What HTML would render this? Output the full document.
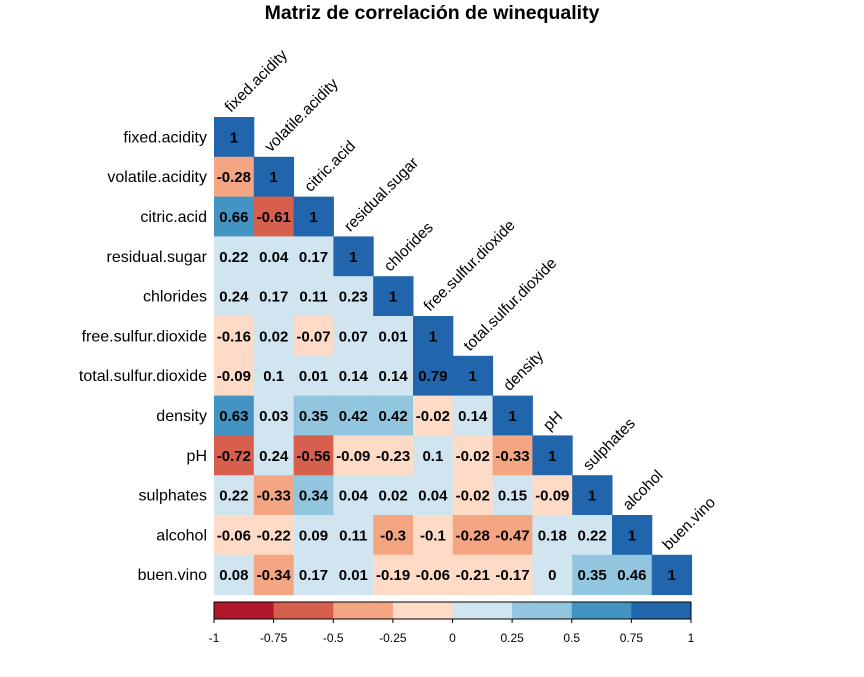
<!DOCTYPE html>
<html><head><meta charset="utf-8"><style>
body{margin:0;background:#fff;width:864px;height:672px;overflow:hidden}
svg text{font-family:"Liberation Sans",Arial,sans-serif}
</style></head><body>
<svg id="chart" width="864" height="672">
<text x="432" y="19" text-anchor="middle" font-size="19.5" font-weight="bold">Matriz de correlación de winequality</text>
<g id="cells"></g><g id="bar"></g>
</svg>
<script>
const vars=["fixed.acidity","volatile.acidity","citric.acid","residual.sugar","chlorides","free.sulfur.dioxide","total.sulfur.dioxide","density","pH","sulphates","alcohol","buen.vino"];
const corrRows=[
[1],
[-0.28,1],
[0.66,-0.61,1],
[0.22,0.04,0.17,1],
[0.24,0.17,0.11,0.23,1],
[-0.16,0.02,-0.07,0.07,0.01,1],
[-0.09,0.1,0.01,0.14,0.14,0.79,1],
[0.63,0.03,0.35,0.42,0.42,-0.02,0.14,1],
[-0.72,0.24,-0.56,-0.09,-0.23,0.1,-0.02,-0.33,1],
[0.22,-0.33,0.34,0.04,0.02,0.04,-0.02,0.15,-0.09,1],
[-0.06,-0.22,0.09,0.11,-0.3,-0.1,-0.28,-0.47,0.18,0.22,1],
[0.08,-0.34,0.17,0.01,-0.19,-0.06,-0.21,-0.17,0,0.35,0.46,1]];
const barTicks=["-1","-0.75","-0.5","-0.25","0","0.25","0.5","0.75","1"];
const palette=["#B2182B","#D6604D","#F4A582","#FDDBC7","#D1E5F0","#92C5DE","#4393C3","#2166AC"];
const X0=214,Y0=117,CW=39.8,W=478;
const NS="http://www.w3.org/2000/svg";
function mk(t,a,p){const e=document.createElementNS(NS,t);for(const k in a)e.setAttribute(k,a[k]);p.appendChild(e);return e;}
function col(v){let i=Math.floor((v+1)/0.25);if(v===0)i=4;return palette[Math.max(0,Math.min(7,i))];}
const sx=j=>X0+j*CW, sy=i=>Y0+i*CW;
const g=document.getElementById("cells");
corrRows.forEach((row,i)=>{
  const lb=mk("text",{x:207,y:sy(i)+CW/2+5.5,"text-anchor":"end","font-size":16},g);
  lb.textContent=vars[i];
  
  
  row.forEach((v,j)=>{
    const r=mk("rect",{x:sx(j),y:sy(i),width:CW+0.5,height:CW+0.5,fill:col(v)},g);
    
    
    const t=mk("text",{x:sx(j)+CW/2,y:sy(i)+CW/2+5.5,"text-anchor":"middle","font-size":15,"font-weight":"bold"},g);
    t.textContent=String(v);
    
    
  });
  const cl=mk("text",{x:sx(i)+CW/2-3,y:sy(i)-4,"font-size":15.5,transform:`rotate(-45 ${sx(i)+CW/2-3} ${sy(i)-4})`},g);
  cl.textContent=vars[i];
  
  
});
const b=document.getElementById("bar");
const bx=v=>X0+(v+1)/2*(W-1);
palette.forEach((c,k)=>{
  const r=mk("rect",{x:bx(-1+k*0.25),y:602,width:(W-1)/8+0.5,height:17,fill:c},b);
  
  
});
const fr=mk("rect",{x:X0,y:602,width:W-1,height:17,fill:"none",stroke:"#000","stroke-width":1},b);


barTicks.forEach(s=>{
  const v=parseFloat(s);
  mk("line",{x1:bx(v),x2:bx(v),y1:619,y2:623,stroke:"#000"},b);
  const t=mk("text",{x:bx(v),y:642,"text-anchor":"middle","font-size":12},b);
  t.textContent=s;
  
  
});
</script>
</body></html>
